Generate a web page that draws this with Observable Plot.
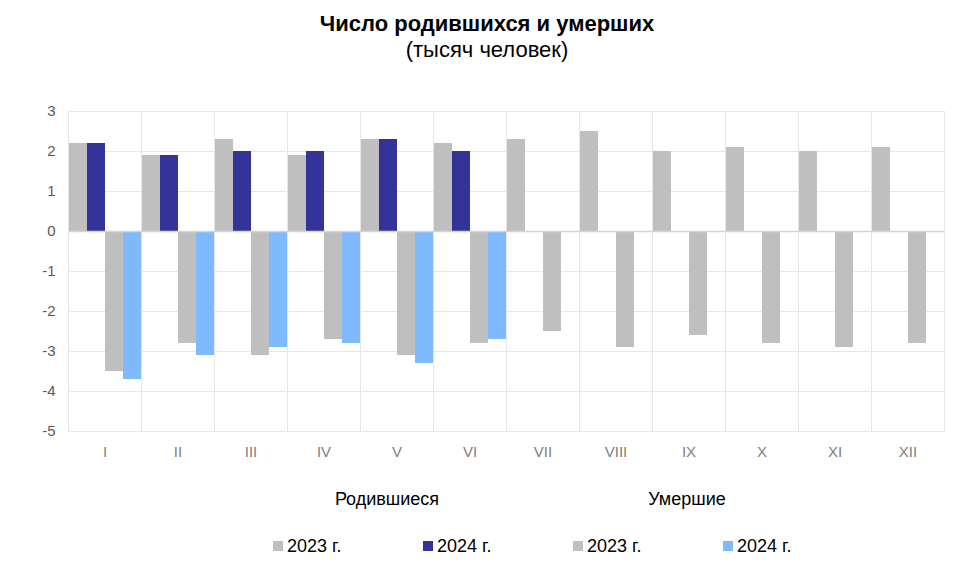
<!DOCTYPE html>
<html>
<head>
<meta charset="utf-8">
<script src="https://cdn.jsdelivr.net/npm/d3@7"></script>
<script src="https://cdn.jsdelivr.net/npm/@observablehq/plot@0.6"></script>
<style>
  html, body { margin: 0; padding: 0; background: #fff; }
  body { position: relative; width: 960px; height: 572px; font-family: "Liberation Sans", Arial, sans-serif; overflow: hidden; }
  .abs { position: absolute; white-space: nowrap; line-height: 1; }
  #title { left: 0; width: 974px; text-align: center; top: 13px; font-size: 22px; font-weight: bold; color: #000; }
  #subtitle { left: 0; width: 974px; text-align: center; top: 39px; font-size: 22px; color: #000; }
  #chart { position: absolute; left: 0; top: 95px; }
  .grp { font-size: 18px; color: #000; transform: translateX(-50%); top: 490px; }
  .leg { top: 537px; font-size: 18px; color: #000; display: flex; align-items: center; }
  .leg span.sw { display: inline-block; width: 10px; height: 10px; margin-right: 4px; }
</style>
</head>
<body>
<div id="title" class="abs">Число родившихся и умерших</div>
<div id="subtitle" class="abs">(тысяч человек)</div>
<div id="chart"></div>
<div class="abs grp" style="left:387px">Родившиеся</div>
<div class="abs grp" style="left:687px">Умершие</div>
<div id="legend"></div>
<script>
const months = ["I","II","III","IV","V","VI","VII","VIII","IX","X","XI","XII"];
const births2023 = [2.2, 1.9, 2.3, 1.9, 2.3, 2.2, 2.3, 2.5, 2.0, 2.1, 2.0, 2.1];
const births2024 = [2.2, 1.9, 2.0, 2.0, 2.3, 2.0];
const deaths2023 = [-3.5, -2.8, -3.1, -2.7, -3.1, -2.8, -2.5, -2.9, -2.6, -2.8, -2.9, -2.8];
const deaths2024 = [-3.7, -3.1, -2.9, -2.8, -3.3, -2.7];
const seriesKeys = ["b2023", "b2024", "d2023", "d2024"];
const seriesLabels = ["2023 г.", "2024 г.", "2023 г.", "2024 г."];
const seriesColors = ["#bfbfbf", "#333399", "#bfbfbf", "#7fbaff"];
const yTicks = [-5, -4, -3, -2, -1, 0, 1, 2, 3];

const seriesValues = [births2023, births2024, deaths2023, deaths2024];
const rows = [];
seriesKeys.forEach((k, si) => {
  seriesValues[si].forEach((v, mi) => {
    if (v != null) rows.push({month: months[mi], key: k, value: v});
  });
});

const chart = Plot.plot({
  width: 960,
  height: 375,
  marginLeft: 66,
  marginRight: 14,
  marginTop: 16,
  marginBottom: 39,
  style: {fontFamily: "'Liberation Sans', Arial, sans-serif", fontSize: "15px", background: "#fff"},
  fx: {domain: months, padding: 0, label: null},
  x: {domain: seriesKeys, padding: 0, axis: null},
  y: {domain: [-5, 3], label: null},
  color: {domain: seriesKeys, range: seriesColors},
  marks: [
    Plot.gridY(yTicks, {stroke: "#e6e6e6", strokeOpacity: 1}),
    Plot.frame({stroke: "#e6e6e6", strokeOpacity: 1}),
    Plot.barY(rows, {fx: "month", x: "key", y: "value", fill: "key"}),
    Plot.ruleY([0], {stroke: "#d4d4d4", strokeWidth: 1.3}),
    Plot.axisY({ticks: yTicks, tickSize: 0, tickPadding: 13, fill: "#595959", label: null,
      tickFormat: d => d < 0 ? "-" + Math.abs(d) : String(d)}),
    Plot.axisFx({anchor: "bottom", tickSize: 0, tickPadding: 15, fill: "#808080", label: null})
  ]
});
document.getElementById("chart").appendChild(chart);

const legendX = [273, 423, 573, 723];
const legend = document.getElementById("legend");
seriesKeys.forEach((k, i) => {
  const d = document.createElement("div");
  d.className = "abs leg";
  d.style.left = legendX[i] + "px";
  d.innerHTML = `<span class="sw" style="background:${seriesColors[i]}"></span>${seriesLabels[i]}`;
  legend.appendChild(d);
});
</script>
</body>
</html>
